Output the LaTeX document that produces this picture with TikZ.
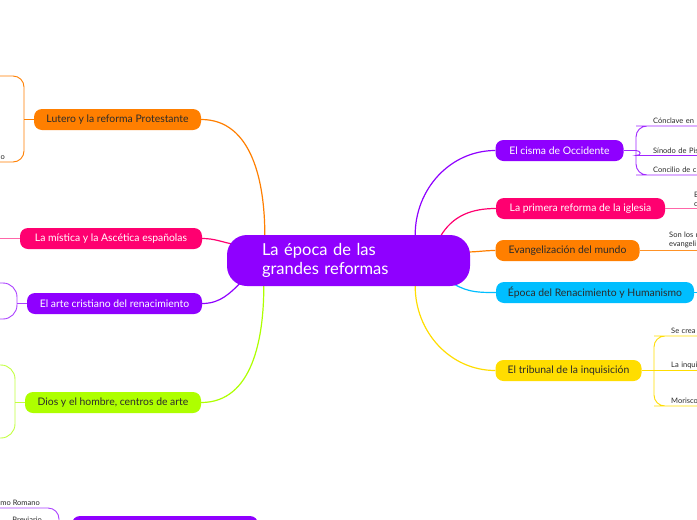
\documentclass[tikz,border=0pt]{standalone}
\usepackage{fontspec}
\setmainfont{Lato}
\usetikzlibrary{backgrounds}
\definecolor{mmpurple}{HTML}{8F00FF}
\definecolor{mmorange}{HTML}{FF7F00}
\definecolor{mmpink}{HTML}{FF0070}
\definecolor{mmlime}{HTML}{AEFF00}
\definecolor{mmcyan}{HTML}{00BEFF}
\definecolor{mmyellow}{HTML}{FFDD00}
\definecolor{mmdark}{HTML}{2B2B2B}

\begin{document}
\begin{tikzpicture}[x=1pt,y=-1pt,
    topic/.style={rounded corners=8pt,minimum height=21pt,inner sep=0pt,
        font=\fontsize{10.4}{12}\selectfont},
    central/.style={rounded corners=20pt,minimum width=243pt,minimum height=51pt,
        text width=173pt,align=left,inner sep=0pt,fill=mmpurple,text=white,
        font=\fontsize{16.5}{18.5}\selectfont},
    leaf/.style={inner xsep=6pt,inner ysep=2pt,text=mmdark,
        font=\fontsize{7.5}{9}\selectfont},
    leaf right/.style={leaf,anchor=south west,text width=50pt,align=left},
    leaf left/.style={leaf,anchor=south east,align=right},
    link/.style={line width=1.2pt},
    twig/.style={line width=0.9pt,rounded corners=11pt}
]
\useasboundingbox (0,0) rectangle (697,520);

\node[central] (cen) at (348.5,260.5) {La época de las\\grandes reformas};

\node[topic,fill=mmorange,text=mmdark,minimum width=167pt] (lut) at (117.5,119.5) {Lutero y la reforma Protestante};
\node[topic,fill=mmpink,text=white,minimum width=182pt] (mis) at (111,238.5) {La mística y la Ascética españolas};
\node[topic,fill=mmpurple,text=white,minimum width=175pt] (arte) at (114.5,303.5) {El arte cristiano del renacimiento};
\node[topic,fill=mmlime,text=mmdark,minimum width=176pt] (dios) at (113,402.5) {Dios y el hombre, centros de arte};
\node[topic,fill=mmpurple,minimum width=186pt] (ref) at (165,526.5) {};

\node[topic,fill=mmpurple,text=white,minimum width=128pt] (cis) at (559.5,150.5) {El cisma de Occidente};
\node[topic,fill=mmpink,text=white,minimum width=169pt] (prim) at (580.5,208.5) {La primera reforma de la iglesia};
\node[topic,fill=mmorange,text=mmdark,minimum width=144pt] (evan) at (567.5,250.5) {Evangelización del mundo};
\node[topic,fill=mmcyan,text=mmdark,minimum width=198pt] (epo) at (595,292.5) {Época del Renacimiento y Humanismo};
\node[topic,fill=mmyellow,text=mmdark,minimum width=146pt] (inq) at (568.5,370.5) {El tribunal de la inquisición};

\node[leaf right] (ct1) at (647,126) {Cónclave en};
\node[leaf right] (ct2) at (647,155.5) {Sínodo de Pis};
\node[leaf right] (ct3) at (647,175) {Concilio de c};
\node[leaf right] (pt1) at (688,208.5) {E\\c};
\node[leaf right] (et1) at (663,250.5) {Son los r\\evangeli};
\node[leaf right] (tt1) at (665,336) {Se crea};
\node[leaf right] (tt2) at (665,370.5) {La inqui};
\node[leaf right] (tt3) at (665,406) {Morisco};
\node[leaf left] (lt2) at (11,162) {o};
\node[leaf left] (bt1) at (46,508) {mo Romano};
\node[leaf left] (bt2) at (48,525) {Breviario};

\coordinate (lutj) at (24,119.5);
\coordinate (lt1) at (-5,76);
\coordinate (mt1) at (-5,238.5);
\coordinate (artj) at (17,303.5);
\coordinate (at1) at (-5,283);
\coordinate (at2) at (-5,319);
\coordinate (dioj) at (15,402.5);
\coordinate (dt1) at (-5,365);
\coordinate (dt2) at (-5,438);
\coordinate (botj) at (59,525);
\coordinate (cisj) at (636,150.5);
\coordinate (inqj) at (654,370.5);
\coordinate (epj) at (705,292.5);

\begin{scope}[on background layer]
\fill[white] (0,0) rectangle (697,520);
\draw[link,mmorange] ([xshift=38pt]cen.north west) to[out=90,in=0] (lut.east);
\draw[link,mmpink] (mis.east) to[out=0,in=170] ([xshift=8pt,yshift=16pt]cen.west);
\draw[link,mmpurple] (arte.east) to[out=0,in=225] ([xshift=16pt,yshift=-20pt]cen.west);
\draw[link,mmlime] (dios.east) to[out=0,in=-90] ([xshift=37pt]cen.south west);
\draw[link,mmpurple] (cis.west) to[out=180,in=90] ([xshift=-55pt]cen.north east);
\draw[link,mmpink] (prim.west) to[out=180,in=60] ([xshift=-30pt,yshift=-2pt]cen.north east);
\draw[link,mmorange] (evan.west) to[out=180,in=0] ([xshift=-4pt,yshift=8.5pt]cen.east);
\draw[link,mmcyan] (epo.west) to[out=180,in=-30] ([xshift=-16pt,yshift=2pt]cen.south east);
\draw[link,mmyellow] (inq.west) to[out=180,in=-90] ([xshift=-55pt]cen.south east);
\end{scope}

\draw[twig,mmorange] (lut.west) -- (lutj);
\draw[twig,mmorange] (lutj) |- (lt1);
\draw[twig,mmorange] (lutj) |- (lt2.south west);
\draw[twig,mmpink!60] (mis.west) -- (mt1);
\draw[twig,mmpurple!75] (arte.west) -- (artj);
\draw[twig,mmpurple!75,rounded corners=14pt] (artj) |- (at1);
\draw[twig,mmpurple!75,rounded corners=14pt] (artj) |- (at2);
\draw[twig,mmlime!75] (dios.west) -- (dioj);
\draw[twig,mmlime!75,rounded corners=14pt] (dioj) |- (dt1);
\draw[twig,mmlime!75,rounded corners=14pt] (dioj) |- (dt2);
\draw[twig,mmpurple!75] (ref.west) -- (botj);
\draw[twig,mmpurple!75] (botj) |- (bt1.south west);
\draw[twig,mmpurple!75] (botj) -- (bt2.south west);

\draw[twig,mmpurple!85] (cis.east) -- (cisj);
\draw[twig,mmpurple!85] (cisj) |- (ct1.south west) -- (ct1.south east);
\draw[twig,mmpurple!85] (cisj) to[out=0,in=180] (ct2.south west) -- (ct2.south east);
\draw[twig,mmpurple!85] (cisj) |- (ct3.south west) -- (ct3.south east);
\draw[twig,mmpink!60] (prim.east) -- (pt1.south west) -- (pt1.south east);
\draw[twig,mmorange!85] (evan.east) -- (et1.south west) -- (et1.south east);
\draw[twig,mmcyan] (epo.east) -- (epj);
\draw[twig,mmyellow] (inq.east) -- (inqj);
\draw[twig,mmyellow] (inqj) |- (tt1.south west) -- (tt1.south east);
\draw[twig,mmyellow] (inqj) -- (tt2.south west) -- (tt2.south east);
\draw[twig,mmyellow] (inqj) |- (tt3.south west) -- (tt3.south east);
\end{tikzpicture}
\end{document}
